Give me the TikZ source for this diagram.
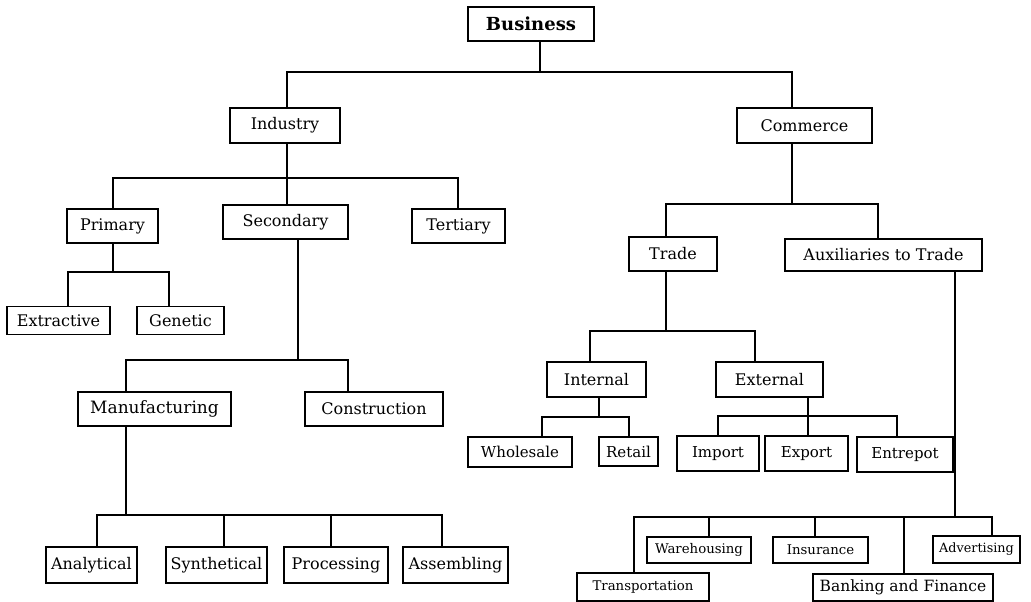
\documentclass[tikz,border=0pt]{standalone}
\usepackage{fontspec}
\setmainfont{DejaVu Serif}
\begin{document}
\begin{tikzpicture}[x=1pt,y=-1pt,
  box/.style={draw, line width=1.2pt, inner sep=0pt, font=\fontsize{16}{18}\selectfont},
  smallbox/.style={box, font=\fontsize{15}{17}\selectfont},
  tinybox/.style={box, font=\fontsize{13.3}{15}\selectfont},
  conn/.style={draw, line width=1.2pt}]
\useasboundingbox[fill=white] (0,0) rectangle (1031,602);
\newcommand\bx[6][box]{\node[#1, minimum width=#4pt, minimum height=#5pt] (#2) at (#3) {#6};}
\newcommand\cn[5]{\draw[conn] (#1.south -| #2,0) -- (#2,#3) -| (#4.north -| #5,0);}
% nodes
\bx[box, font=\fontsize{18}{20}\selectfont\bfseries]{business}{531,24}{126}{34}{Business}
\bx{industry}{285,125.5}{110}{35}{Industry}
\bx{commerce}{804.5,125.5}{135}{35}{Commerce}
\bx{primary}{112.5,226}{91}{34}{Primary}
\bx{secondary}{285.5,222}{125}{34}{Secondary}
\bx{tertiary}{458.5,226}{93}{34}{Tertiary}
\bx{extractive}{58.5,320.5}{103}{28}{Extractive}
\bx{genetic}{180.5,320.5}{87}{28}{Genetic}
\bx[box, font=\fontsize{17}{19}\selectfont]{manufacturing}{154.5,409}{153}{34}{Manufacturing}
\bx{construction}{374,409}{138}{34}{Construction}
\bx{analytical}{91.5,565}{91}{36}{Analytical}
\bx{synthetical}{216.5,565}{101}{36}{Synthetical}
\bx{processing}{336,565}{104}{36}{Processing}
\bx{assembling}{455.5,565}{105}{36}{Assembling}
\bx{trade}{673,254}{88}{34}{Trade}
\bx{aux}{883.5,255}{197}{32}{Auxiliaries to Trade}
\bx{internal}{596.5,379.5}{99}{35}{Internal}
\bx{external}{769.5,379.5}{107}{35}{External}
\bx[smallbox]{wholesale}{520,452}{104}{30}{Wholesale}
\bx[smallbox]{retail}{628.5,451.5}{59}{29}{Retail}
\bx[smallbox]{import}{718,453.5}{82}{35}{Import}
\bx[smallbox]{export}{806.5,453.5}{83}{35}{Export}
\bx[smallbox]{entrepot}{905,454.5}{96}{35}{Entrepot}
\bx[tinybox]{warehousing}{699,550}{104}{26}{Warehousing}
\bx[tinybox]{insurance}{820.5,550}{95}{26}{Insurance}
\bx[box, font=\fontsize{12.8}{15}\selectfont]{advertising}{976.5,549.5}{87}{27}{Advertising}
\bx[tinybox]{transportation}{643,587}{132}{28}{Transportation}
\bx[box, font=\fontsize{15.5}{17}\selectfont]{banking}{903,587.5}{180}{27}{Banking and Finance}
% connectors
\cn{business}{540}{72}{industry}{287}
\cn{business}{540}{72}{commerce}{792}
\cn{industry}{287}{178}{primary}{113}
\cn{industry}{287}{178}{secondary}{287}
\cn{industry}{287}{178}{tertiary}{458}
\cn{primary}{113}{272}{extractive}{68}
\cn{primary}{113}{272}{genetic}{169}
\cn{secondary}{298}{360}{manufacturing}{126}
\cn{secondary}{298}{360}{construction}{348}
\cn{manufacturing}{126}{515}{analytical}{97}
\cn{manufacturing}{126}{515}{synthetical}{224}
\cn{manufacturing}{126}{515}{processing}{331}
\cn{manufacturing}{126}{515}{assembling}{442}
\cn{commerce}{792}{204}{trade}{666}
\cn{commerce}{792}{204}{aux}{878}
\cn{trade}{666}{331}{internal}{590}
\cn{trade}{666}{331}{external}{755}
\cn{internal}{599}{417}{wholesale}{542}
\cn{internal}{599}{417}{retail}{629}
\cn{external}{808}{416}{import}{718}
\cn{external}{808}{416}{export}{808}
\cn{external}{808}{416}{entrepot}{897}
\cn{aux}{955}{517}{transportation}{634}
\cn{aux}{955}{517}{warehousing}{709}
\cn{aux}{955}{517}{insurance}{815}
\cn{aux}{955}{517}{banking}{904}
\cn{aux}{955}{517}{advertising}{992}
\end{tikzpicture}
\end{document}
